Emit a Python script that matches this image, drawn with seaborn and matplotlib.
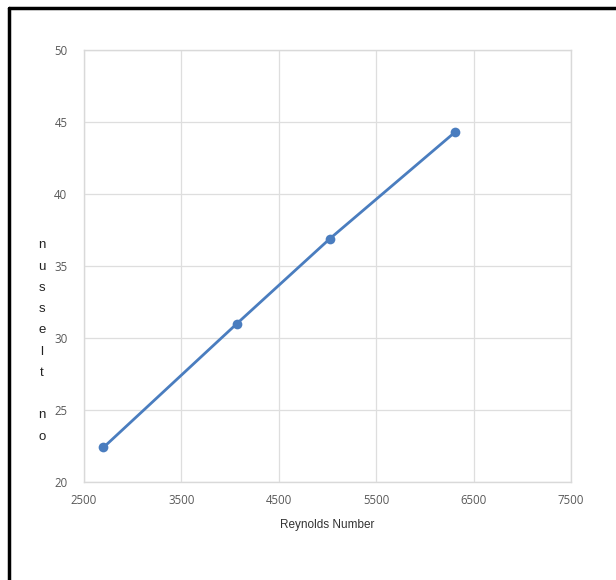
import matplotlib
matplotlib.use("Agg")
import matplotlib.pyplot as plt
import seaborn as sns
import pandas as pd
from matplotlib.lines import Line2D

reynolds = [2700, 4070, 5025, 6310]
nusselt = [22.4, 31.0, 36.9, 44.3]
x_ticks = [2500, 3500, 4500, 5500, 6500, 7500]
y_ticks = [20, 25, 30, 35, 40, 45, 50]
x_label = "Reynolds Number"
y_label_letters = ["n", "u", "s", "s", "e", "l", "t", "", "n", "o"]

df = pd.DataFrame({"Re": reynolds, "Nu": nusselt})

sns.set_theme(style="white")
plt.rcParams["font.family"] = ["Open Sans", "DejaVu Sans"]

fig = plt.figure(figsize=(6.16, 5.8), dpi=100)
ax = fig.add_axes([84 / 616, 1 - 482 / 580, (571 - 84) / 616, (482 - 50) / 580])

line_color = "#4a7dbf"
sns.lineplot(data=df, x="Re", y="Nu", ax=ax, color=line_color, linewidth=2.0,
             marker="o", markersize=7, markeredgewidth=0, markerfacecolor=line_color)

ax.set_xlim(2500, 7500)
ax.set_ylim(20, 50)
ax.set_xticks(x_ticks)
ax.set_yticks(y_ticks)
ax.set_xticklabels([str(v) for v in x_ticks])
ax.set_yticklabels([str(v) for v in y_ticks])
ax.grid(True, color="#dedede", linewidth=0.9)
ax.set_axisbelow(True)
for s in ax.spines.values():
    s.set_color("#d9d9d9")
    s.set_linewidth(1.0)
ax.tick_params(axis="both", length=0, labelsize=8.3, colors="#595959")
ax.tick_params(axis="x", pad=9)
ax.tick_params(axis="y", pad=12)
ax.set_xlabel(x_label, fontsize=8.5, color="#333333", labelpad=8, family=["Liberation Sans", "DejaVu Sans"])
ax.set_ylabel("")

fig.text(42 / 616, 1 - 341 / 580, "\n".join(y_label_letters), ha="center", va="center",
         fontsize=9.5, color="#222222", linespacing=2.03, family=["Liberation Sans", "DejaVu Sans"])

# partial black frame (top and left edges)
fig.add_artist(Line2D([9 / 616, 1.0], [1 - 8 / 580, 1 - 8 / 580], transform=fig.transFigure,
                      color="black", linewidth=2.5))
fig.add_artist(Line2D([9 / 616, 9 / 616], [0.0, 1 - 8 / 580], transform=fig.transFigure,
                      color="black", linewidth=2.5))

fig.savefig("out.png", dpi=100)
